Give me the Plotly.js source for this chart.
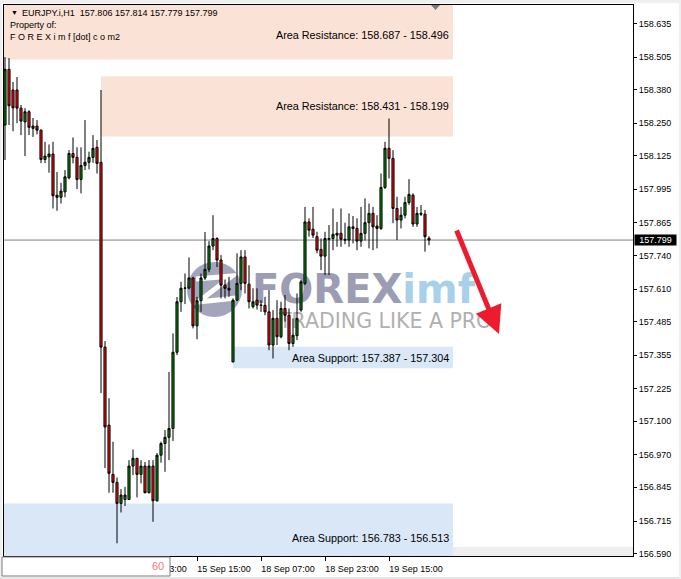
<!DOCTYPE html>
<html><head><meta charset="utf-8">
<script src="https://cdn.plot.ly/plotly-3.0.1.min.js"></script>
<style>html,body{margin:0;padding:0;background:#fff;overflow:hidden}#chart{width:681px;height:579px}</style>
</head><body><div id="chart"></div>
<script>
// ---- header texts ----
const headerSymbol = "EURJPY.i,H1  157.806 157.814 157.779 157.799";
const headerLine2 = "Property of:";
const headerLine3 = "F O R E X i m f [dot] c o m2";

// ---- OHLC (H1 bars, oldest -> newest) ----
const openP = [158.243,158.458,158.378,158.378,158.308,158.255,158.294,158.230,158.239,158.223,
158.110,158.120,158.131,157.972,157.964,157.985,158.039,158.133,158.118,158.033,
158.087,158.099,158.118,158.157,158.099,157.386,157.085,156.895,156.864,156.783,
156.798,156.798,156.927,156.957,156.895,156.927,156.824,156.927,156.793,156.969,
157.014,157.038,157.072,157.366,157.561,157.613,157.614,157.653,157.468,157.565,
157.653,157.686,157.776,157.805,157.722,157.625,157.613,157.329,157.567,157.632,
157.734,157.629,157.542,157.567,157.548,157.547,157.522,157.394,157.497,157.426,
157.535,157.509,157.400,157.430,157.529,157.632,157.869,157.841,157.812,157.763,
157.737,157.802,157.805,157.818,157.825,157.802,157.799,157.850,157.844,157.795,
157.825,157.866,157.902,157.853,157.844,158.002,158.153,158.114,157.921,157.876,
157.895,157.944,157.972,157.861,157.902,157.899,157.806];
const highP = [158.505,158.501,158.409,158.428,158.320,158.308,158.300,158.270,158.262,158.226,
158.178,158.168,158.178,158.062,158.020,158.069,158.146,158.195,158.157,158.157,
158.262,158.140,158.204,158.185,158.378,157.409,157.189,157.021,156.883,156.838,
156.847,156.950,156.991,156.958,156.950,156.943,156.950,156.950,156.977,157.021,
157.066,157.290,157.439,157.579,157.638,157.670,157.732,157.657,157.580,157.670,
157.830,157.795,157.895,157.810,157.741,157.647,157.657,157.574,157.748,157.760,
157.760,157.702,157.613,157.613,157.567,157.580,157.606,157.529,157.567,157.561,
157.587,157.535,157.497,157.593,157.645,157.927,157.883,157.927,157.831,157.805,
157.831,157.857,157.921,157.869,157.921,157.866,157.902,157.892,157.883,157.927,
157.960,157.940,157.927,157.895,158.056,158.178,158.268,158.146,157.966,157.927,
157.966,158.034,157.979,157.927,157.934,157.915,157.814];
const lowP = [158.108,158.243,158.219,158.250,158.204,158.123,158.204,158.197,158.207,158.096,
158.096,158.059,157.921,157.912,157.940,157.964,158.033,158.095,157.996,157.979,
158.069,158.072,158.097,158.056,157.209,156.919,156.824,156.824,156.629,156.748,
156.773,156.796,156.892,156.806,156.860,156.822,156.822,156.712,156.790,156.940,
156.905,156.950,157.024,157.355,157.522,157.552,157.609,157.458,157.416,157.522,
157.645,157.675,157.760,157.695,157.574,157.574,157.580,157.327,157.565,157.606,
157.593,157.535,157.535,157.531,157.522,157.509,157.374,157.342,157.394,157.420,
157.484,157.374,157.387,157.413,157.522,157.625,157.812,157.807,157.748,157.683,
157.664,157.664,157.760,157.773,157.773,157.783,157.773,157.786,157.760,157.773,
157.797,157.767,157.760,157.767,157.838,157.996,158.037,157.864,157.799,157.844,
157.883,157.934,157.850,157.850,157.892,157.754,157.779];
const closeP = [158.458,158.317,158.309,158.308,158.258,158.294,158.234,158.239,158.223,158.110,
158.123,158.131,157.970,157.964,157.988,158.043,158.133,158.118,158.033,158.087,
158.099,158.118,158.153,158.095,157.386,157.078,156.899,156.864,156.783,156.815,
156.815,156.927,156.957,156.895,156.927,156.824,156.927,156.793,156.969,157.014,
157.038,157.072,157.366,157.561,157.613,157.614,157.653,157.468,157.565,157.653,
157.686,157.776,157.805,157.722,157.625,157.613,157.606,157.567,157.632,157.734,
157.632,157.561,157.561,157.548,157.547,157.522,157.394,157.497,157.426,157.535,
157.509,157.400,157.432,157.497,157.638,157.869,157.837,157.818,157.760,157.737,
157.805,157.805,157.821,157.825,157.802,157.799,157.850,157.844,157.795,157.825,
157.866,157.902,157.850,157.844,158.002,158.153,158.114,157.921,157.876,157.895,
157.944,157.975,157.861,157.902,157.899,157.812,157.799];
const lastPrice = 157.799;

// ---- axis ticks ----
const priceTicks = ["158.635","158.505","158.380","158.250","158.125","157.995","157.865","157.740","157.610",
"157.485","157.355","157.225","157.100","156.970","156.845","156.715","156.590"];
const timeTickBars = [33, 49, 65, 81, 97];
const timeTickLabels = ["14 Sep 23:00","15 Sep 15:00","18 Sep 07:00","18 Sep 23:00","19 Sep 15:00"];

// ---- zones ----
const zoneNames = ["Area Resistance","Area Resistance","Area Support","Area Support"];
const zoneHigh = [158.687, 158.431, 157.387, 156.783];
const zoneLow  = [158.496, 158.199, 157.304, 156.513];
const zoneStartBar = [-50, 25, 58, -50];
const zoneEndBar = 113;

// ---- layout geometry ----
const W = 681, H = 579;
const PL = 4, PR = 633, PT = 5, PB = 556;
const xRange = [0.75, 158.0];
const yRange = [156.580, 158.706];
const px2x = p => xRange[0] + (p - PL) / (PR - PL) * (xRange[1] - xRange[0]);
const py2y = p => yRange[1] - (p - PT) / (PB - PT) * (yRange[1] - yRange[0]);
const pxp = p => (p - PL) / (PR - PL);
const pyp = p => 1 - (p - PT) / (PB - PT);

const bars = openP.map((_, i) => i + 1);
const FONT = "Liberation Sans, Arial, sans-serif";

const traces = [
  { type: 'scatter', mode: 'text', x: [px2x(252)], y: [py2y(293)], xaxis: 'x', yaxis: 'y',
    text: ["FOREX<span style='fill:#A9D0EA'>imf</span>"], textposition: 'middle right',
    textfont: { family: 'DejaVu Sans', size: 40, weight: 'bold', color: '#9C9DB5' },
    hoverinfo: 'skip', showlegend: false, cliponaxis: false },
  { type: 'scatter', mode: 'text', x: [px2x(279)], y: [py2y(323)], xaxis: 'x', yaxis: 'y',
    text: ["TRADING LIKE A PRO"], textposition: 'middle right',
    textfont: { family: 'DejaVu Sans', size: 20.5, color: '#B0B0B0' },
    hoverinfo: 'skip', showlegend: false, cliponaxis: false },
  { type: 'candlestick', x: bars, open: openP, high: highP, low: lowP, close: closeP,
    xaxis: 'x2', yaxis: 'y2',
    increasing: { line: { color: '#000000', width: 1 }, fillcolor: '#0A8A0A' },
    decreasing: { line: { color: '#000000', width: 1 }, fillcolor: '#FF1010' },
    whiskerwidth: 0, hoverinfo: 'skip', showlegend: false }
];

const shapes = [];
// window borders
shapes.push({ type: 'rect', xref: 'paper', yref: 'paper', x0: pxp(0), x1: pxp(W), y0: pyp(0), y1: pyp(3), fillcolor: '#EFEFEF', line: { width: 0 }, layer: 'below' });
shapes.push({ type: 'rect', xref: 'paper', yref: 'paper', x0: pxp(0), x1: pxp(2), y0: pyp(0), y1: pyp(H), fillcolor: '#EFEFEF', line: { width: 0 }, layer: 'below' });
shapes.push({ type: 'rect', xref: 'paper', yref: 'paper', x0: pxp(0), x1: pxp(W), y0: pyp(577), y1: pyp(H), fillcolor: '#E6E6E6', line: { width: 0 }, layer: 'below' });
shapes.push({ type: 'rect', xref: 'paper', yref: 'paper', x0: pxp(679), x1: pxp(W), y0: pyp(0), y1: pyp(H), fillcolor: '#EFEFEF', line: { width: 0 }, layer: 'below' });
// zones
zoneNames.forEach((n, i) => {
  const res = n.indexOf('Resistance') >= 0;
  shapes.push({ type: 'rect', xref: 'x', yref: 'y', x0: zoneStartBar[i], x1: zoneEndBar,
    y0: zoneLow[i], y1: (i === 0 ? Math.max(zoneHigh[i], yRange[1] + 0.01) : zoneHigh[i]),
    fillcolor: res ? '#FBE2D6' : '#DAE7F7', line: { width: 0 }, layer: 'below' });
});
// bottom strip
shapes.push({ type: 'rect', xref: 'x', yref: 'y', x0: zoneEndBar, x1: xRange[1], y0: yRange[0], y1: py2y(547),
  fillcolor: '#EEEEEE', line: { width: 0 }, layer: 'below' });
// logo disc
shapes.push({ type: 'circle', xref: 'x', yref: 'y', x0: px2x(187), x1: px2x(242), y0: py2y(317), y1: py2y(262),
  fillcolor: '#A3A5BC', line: { width: 0 }, layer: 'below' });
shapes.push({ type: 'path', xref: 'x', yref: 'y', layer: 'below', fillcolor: 'rgba(0,0,0,0)',
  path: `M${px2x(196)},${py2y(279)} L${px2x(232)},${py2y(276)} L${px2x(198)},${py2y(302)} L${px2x(236)},${py2y(298)}`,
  line: { color: '#FFFFFF', width: 5 } });
// current price line
shapes.push({ type: 'line', xref: 'paper', yref: 'y', x0: 0, x1: 1, y0: lastPrice, y1: lastPrice,
  line: { color: '#7F858C', width: 1 }, layer: 'below' });
// period box
shapes.push({ type: 'rect', xref: 'paper', yref: 'paper', x0: pxp(2), x1: pxp(170), y0: pyp(576), y1: pyp(557),
  fillcolor: '#FFFFFF', line: { color: '#7A7A7A', width: 1 }, layer: 'above' });
// shift marker
shapes.push({ type: 'path', xref: 'paper', yref: 'paper', layer: 'above', fillcolor: '#7A7A7A', line: { width: 0 },
  path: `M${pxp(431)},${pyp(5)} L${pxp(440)},${pyp(5)} L${pxp(435.5)},${pyp(10)} Z` });

const annotations = [];
const txt = (x, y, t, size, color, anchor) => ({ xref: 'paper', yref: 'paper', x: pxp(x), y: pyp(y), text: t,
  showarrow: false, xanchor: anchor || 'left', yanchor: 'middle', font: { family: FONT, size: size, color: color || '#000' } });
annotations.push(txt(9, 13, '▼', 7));
annotations.push(txt(20, 13, headerSymbol, 9));
annotations.push(txt(8, 25, headerLine2, 9));
annotations.push(txt(8, 37, headerLine3, 9));
zoneNames.forEach((n, i) => {
  annotations.push({ xref: 'x', yref: 'y', x: zoneEndBar, y: (zoneHigh[i] + zoneLow[i]) / 2, xshift: -2,
    text: `${n}: ${zoneHigh[i].toFixed(3)} - ${zoneLow[i].toFixed(3)}`, showarrow: false, xanchor: 'right', yanchor: 'middle',
    font: { family: FONT, size: 10.8, color: '#000' } });
});
annotations.push({ xref: 'paper', yref: 'y', x: 1, xshift: 1, y: lastPrice, text: lastPrice.toFixed(3), showarrow: false,
  xanchor: 'left', yanchor: 'middle', bgcolor: '#000000', width: 41, height: 10, borderpad: 0,
  font: { family: FONT, size: 9, color: '#FFFFFF' } });
annotations.push(txt(166, 566, '60', 11, '#F07878', 'right'));
annotations.push({ xref: 'x', yref: 'y', x: px2x(499), y: py2y(334), ax: 456 - 499, ay: 229 - 334, axref: 'pixel', ayref: 'pixel',
  showarrow: true, arrowhead: 2, arrowsize: 1.1, arrowwidth: 5, arrowcolor: '#EC1C2E', text: '' });

const axBase = { showgrid: false, zeroline: false, showline: true, mirror: true, linecolor: '#000', linewidth: 1,
  ticks: 'outside', tickcolor: '#000', tickfont: { family: FONT, size: 9, color: '#000' }, fixedrange: true };

const layout = {
  width: W, height: H, margin: { l: PL, r: W - PR, t: PT, b: H - PB, pad: 0 },
  paper_bgcolor: '#FFFFFF', plot_bgcolor: '#FFFFFF', showlegend: false, boxgap: 0.25,
  xaxis: Object.assign({}, axBase, { range: xRange, tickvals: timeTickBars, ticktext: timeTickLabels, ticklen: 4,
    ticklabelshift: 27, rangeslider: { visible: false } }),
  yaxis: Object.assign({}, axBase, { range: yRange, side: 'right', tickvals: priceTicks.map(Number), ticktext: priceTicks, ticklen: 3 }),
  xaxis2: { overlaying: 'x', range: xRange, visible: false, fixedrange: true, rangeslider: { visible: false } },
  yaxis2: { overlaying: 'y', range: yRange, visible: false, fixedrange: true },
  shapes: shapes, annotations: annotations
};

Plotly.newPlot('chart', traces, layout, { staticPlot: true, displayModeBar: false });
</script>
</body></html>
